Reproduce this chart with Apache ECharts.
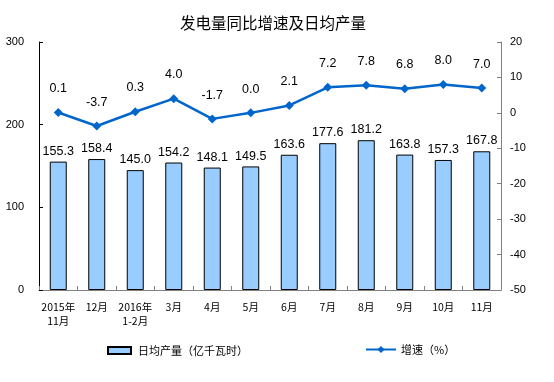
<!DOCTYPE html>
<html>
<head>
<meta charset="utf-8">
<script src="https://cdn.jsdelivr.net/npm/echarts@6/dist/echarts.min.js"></script>
<style>
html,body{margin:0;padding:0;background:#fff;}
#c{width:554px;height:382px;}
</style>
</head>
<body>
<div id="c"></div>
<script>
const categories = ['2015年\n11月','12月','2016年\n1-2月','3月','4月','5月','6月','7月','8月','9月','10月','11月'];
const dailyOutput = [155.3,158.4,145.0,154.2,148.1,149.5,163.6,177.6,181.2,163.8,157.3,167.8];
const growthRate = [0.1,-3.7,0.3,4.0,-1.7,0.0,2.1,7.2,7.8,6.8,8.0,7.0];
const leftTicks = [0,100,200,300];
const rightTicks = [-50,-40,-30,-20,-10,0,10,20];

const FONT = '"Liberation Sans", Arial, "Noto Sans CJK SC", sans-serif';
const chart = echarts.init(document.getElementById('c'));
chart.setOption({
  animation: false,
  backgroundColor: '#fff',
  textStyle: {fontFamily: FONT},
  title: {
    text: '发电量同比增速及日均产量',
    left: 268, top: 10, textAlign: 'center',
    textStyle: {fontSize: 15.5, fontWeight: 'normal', color: '#000', fontFamily: '"Noto Sans CJK SC", sans-serif'}
  },
  grid: {left: 39, right: 53, top: 42, bottom: 92, containLabel: false},
  legend: [
    {
      data: [{name: '日均产量（亿千瓦时）', icon: 'rect'}],
      left: 102, top: 340,
      itemWidth: 23, itemHeight: 7, itemGap: 0,
      textStyle: {fontSize: 11, color: '#000', fontFamily: '"Noto Sans CJK SC", sans-serif', padding: [0,0,0,2]}
    },
    {
      data: ['增速（%）'],
      left: 360, top: 339,
      itemWidth: 30, itemHeight: 9, itemGap: 0,
      textStyle: {fontSize: 11, color: '#000', fontFamily: '"Noto Sans CJK SC", sans-serif', padding: [0,0,0,0]}
    }
  ],
  xAxis: {
    type: 'category',
    data: categories,
    axisLine: {lineStyle: {color: '#808080', width: 1}},
    axisTick: {show: true, inside: true, length: 4, lineStyle: {color: '#808080'}},
    axisLabel: {fontSize: 10.5, color: '#000', margin: 10, lineHeight: 14, interval: 0, fontFamily: '"Noto Sans CJK SC", sans-serif'},
    splitLine: {show: false}
  },
  yAxis: [
    {
      type: 'value', min: leftTicks[0], max: leftTicks[leftTicks.length-1], interval: 100,
      axisLine: {show: true, lineStyle: {color: '#000'}},
      axisTick: {show: true, inside: true, length: 4, lineStyle: {color: '#000'}},
      axisLabel: {fontSize: 11, color: '#000', margin: 15},
      splitLine: {show: false}
    },
    {
      type: 'value', min: rightTicks[0], max: rightTicks[rightTicks.length-1], interval: 10,
      position: 'right',
      axisLine: {show: true, lineStyle: {color: '#808080'}},
      axisTick: {show: true, inside: true, length: 4, lineStyle: {color: '#808080'}},
      axisLabel: {fontSize: 11, color: '#000', margin: 9},
      splitLine: {show: false}
    }
  ],
  series: [
    {
      name: '日均产量（亿千瓦时）',
      type: 'bar',
      data: dailyOutput,
      yAxisIndex: 0,
      barWidth: 17,
      itemStyle: {color: '#99CCFF', borderColor: '#000', borderWidth: 1},
      label: {show: true, position: 'top', distance: 4, fontSize: 12.5, color: '#000',
        formatter: p => p.value.toFixed(1)}
    },
    {
      name: '增速（%）',
      type: 'line',
      data: growthRate,
      yAxisIndex: 1,
      symbol: 'diamond', symbolSize: 9,
      lineStyle: {color: '#0066CC', width: 2.5},
      itemStyle: {color: '#0066CC'},
      label: {show: true, position: 'top', distance: 13, fontSize: 12.5, color: '#000',
        formatter: p => p.value.toFixed(1)}
    }
  ]
});
</script>
</body>
</html>
